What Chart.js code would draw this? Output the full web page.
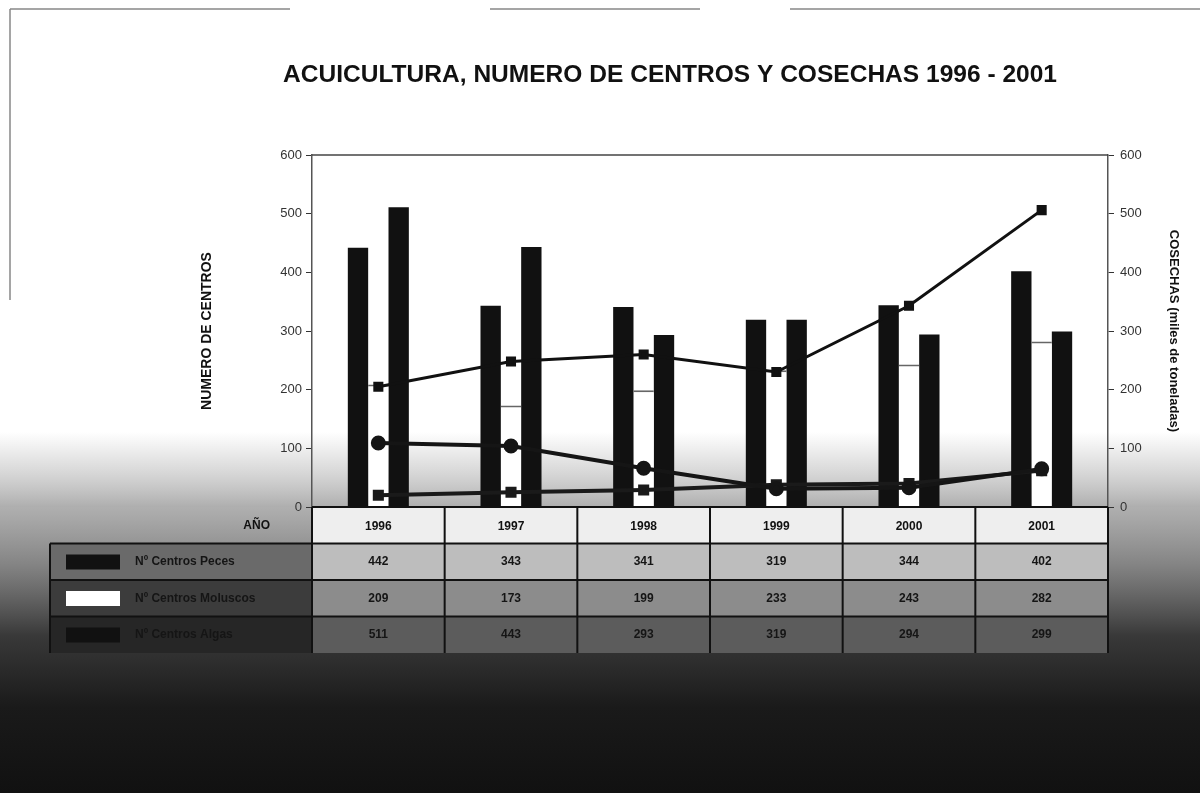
<!DOCTYPE html>
<html>
<head>
<meta charset="utf-8">
<script src="https://cdn.jsdelivr.net/npm/chart.js@4.4.1/dist/chart.umd.min.js"></script>
<style>
  html, body { margin: 0; padding: 0; background: #fff; }
  #wrap { width: 1200px; height: 793px; position: relative; }
</style>
</head>
<body>
<div id="wrap"><canvas id="acuiChart" width="1200" height="793"></canvas></div>
<script>
// datos (centros y cosechas, miles de toneladas)
const years = ["1996", "1997", "1998", "1999", "2000", "2001"];
const centrosPeces = [442, 343, 341, 319, 344, 402];
const centrosMoluscos = [209, 173, 199, 233, 243, 282];
const centrosAlgas = [511, 443, 293, 319, 294, 299];
const cosechasPeces = [205, 248, 260, 230, 343, 506];
const cosechasAlgas = [109, 104, 66, 31, 33, 65];
const cosechasMoluscos = [20, 25, 29, 38, 40, 62];
const yTicks = [0, 100, 200, 300, 400, 500, 600];

const tableRows = [
    { label: "Nº Centros Peces", values: centrosPeces, key: "#111", cell: "#bdbdbd", side: "#6a6a6a" },
    { label: "Nº Centros Moluscos", values: centrosMoluscos, key: "#fff", cell: "#8c8c8c", side: "#3c3c3c" },
    { label: "Nº Centros Algas", values: centrosAlgas, key: "#111", cell: "#5c5c5c", side: "#262626" }
];

const FONT = '"Liberation Sans", Arial, sans-serif';

// fondo escaneado: blanco arriba, gris oscuro abajo
const backgroundPlugin = {
    id: "scanBackground",
    beforeDraw(chart) {
        const ctx = chart.ctx;
        const area = chart.chartArea;
        ctx.save();
        ctx.fillStyle = "#fff";
        ctx.fillRect(0, 0, chart.width, chart.height);

        // banda gris bajo el area del grafico
        let g = ctx.createLinearGradient(0, area.bottom - 75, 0, area.bottom);
        g.addColorStop(0, "rgba(150,150,150,0)");
        g.addColorStop(0.5, "rgba(150,150,150,0.35)");
        g.addColorStop(1, "rgba(120,120,120,0.6)");
        ctx.fillStyle = g;
        ctx.fillRect(0, area.bottom - 75, chart.width, 75);

        g = ctx.createLinearGradient(0, area.bottom, 0, chart.height);
        g.addColorStop(0, "rgba(110,110,110,0.55)");
        g.addColorStop(0.2, "rgba(80,80,80,0.7)");
        g.addColorStop(0.45, "rgba(35,35,35,0.9)");
        g.addColorStop(0.7, "#1a1a1a");
        g.addColorStop(1, "#111");
        ctx.fillStyle = g;
        ctx.fillRect(0, area.bottom, chart.width, chart.height - area.bottom);

        // bordes de la pagina
        ctx.strokeStyle = "#888";
        ctx.lineWidth = 1.5;
        ctx.beginPath();
        ctx.moveTo(10, 9); ctx.lineTo(290, 9);
        ctx.moveTo(490, 9); ctx.lineTo(700, 9);
        ctx.moveTo(790, 9); ctx.lineTo(1200, 9);
        ctx.moveTo(10, 9); ctx.lineTo(10, 300);
        ctx.stroke();
        ctx.restore();
    },
    afterDatasetsDraw(chart) {
        const ctx = chart.ctx;
        const area = chart.chartArea;
        ctx.save();
        ctx.strokeStyle = "#444";
        ctx.lineWidth = 1.5;
        ctx.beginPath();
        ctx.moveTo(area.left, area.top);
        ctx.lineTo(area.right, area.top);
        ctx.stroke();

        // titulo ajustado al ancho del original
        const title = "ACUICULTURA, NUMERO DE CENTROS Y COSECHAS 1996 - 2001";
        ctx.fillStyle = "#111";
        ctx.font = "bold 23px " + FONT;
        ctx.textAlign = "center";
        ctx.textBaseline = "middle";
        const w = ctx.measureText(title).width;
        ctx.translate(670, 76);
        ctx.scale(774 / w, 1);
        ctx.fillText(title, 0, 0);
        ctx.restore();
    }
};

// tabla de datos bajo el eje x
const tablePlugin = {
    id: "dataTable",
    afterDraw(chart) {
        const ctx = chart.ctx;
        const x = chart.scales.x;
        const area = chart.chartArea;
        const step = (area.right - area.left) / years.length;
        const top = area.bottom;
        const rowH = 36.5;
        const tableLeft = 50;

        ctx.save();
        // celdas
        ctx.fillStyle = "#eeeeee";
        ctx.fillRect(area.left, top, area.right - area.left, rowH);
        tableRows.forEach((row, r) => {
            const y = top + rowH * (r + 1);
            ctx.fillStyle = row.side;
            ctx.fillRect(tableLeft, y, area.left - tableLeft, rowH);
            ctx.fillStyle = row.cell;
            ctx.fillRect(area.left, y, area.right - area.left, rowH);
            ctx.fillStyle = row.key;
            ctx.fillRect(tableLeft + 16, y + 11, 54, 15);
        });

        // lineas
        ctx.strokeStyle = "#111";
        ctx.lineWidth = 2;
        ctx.beginPath();
        ctx.moveTo(area.left, top); ctx.lineTo(area.right, top);
        for (let r = 1; r <= tableRows.length; r++) {
            ctx.moveTo(tableLeft, top + rowH * r);
            ctx.lineTo(area.right, top + rowH * r);
        }
        ctx.moveTo(tableLeft, top + rowH);
        ctx.lineTo(tableLeft, top + rowH * (tableRows.length + 1));
        for (let i = 0; i <= years.length; i++) {
            const px = area.left + step * i;
            ctx.moveTo(px, top);
            ctx.lineTo(px, top + rowH * (tableRows.length + 1));
        }
        ctx.stroke();

        // textos
        ctx.fillStyle = "#111";
        ctx.font = "bold 12px " + FONT;
        ctx.textBaseline = "middle";
        ctx.textAlign = "right";
        ctx.fillText("AÑO", area.left - 42, top + rowH / 2);
        ctx.textAlign = "center";
        years.forEach((yr, i) => {
            ctx.fillText(yr, x.getPixelForValue(i), top + rowH / 2 + 1);
        });
        tableRows.forEach((row, r) => {
            const y = top + rowH * (r + 1) + rowH / 2;
            ctx.textAlign = "left";
            ctx.fillStyle = "#151515";
            ctx.fillText(row.label, tableLeft + 85, y);
            ctx.textAlign = "center";
            row.values.forEach((v, i) => {
                ctx.fillText(String(v), x.getPixelForValue(i), y);
            });
        });
        ctx.restore();
    }
};

const ctx = document.getElementById("acuiChart").getContext("2d");

new Chart(ctx, {
    type: "bar",
    data: {
        labels: years,
        datasets: [
            {
                type: "line",
                label: "Cosechas Peces",
                data: cosechasPeces,
                yAxisID: "y1",
                borderColor: "#111",
                backgroundColor: "#111",
                borderWidth: 3,
                pointStyle: "rect",
                pointRadius: 5,
                order: 0
            },
            {
                type: "line",
                label: "Cosechas Algas",
                data: cosechasAlgas,
                yAxisID: "y1",
                borderColor: "#151515",
                backgroundColor: "#151515",
                borderWidth: 4,
                pointStyle: "circle",
                pointRadius: 5.5,
                order: 0
            },
            {
                type: "line",
                label: "Cosechas Moluscos",
                data: cosechasMoluscos,
                yAxisID: "y1",
                borderColor: "#1a1a1a",
                backgroundColor: "#1a1a1a",
                borderWidth: 4,
                pointStyle: "rect",
                pointRadius: 5,
                order: 0
            },
            {
                label: "Nº Centros Peces",
                data: centrosPeces,
                yAxisID: "y",
                backgroundColor: "#111",
                order: 1
            },
            {
                label: "Nº Centros Moluscos",
                data: centrosMoluscos,
                yAxisID: "y",
                backgroundColor: "#fff",
                borderColor: "#666",
                borderWidth: { top: 2, left: 0, right: 0, bottom: 0 },
                borderSkipped: false,
                order: 1
            },
            {
                label: "Nº Centros Algas",
                data: centrosAlgas,
                yAxisID: "y",
                backgroundColor: "#111",
                order: 1
            }
        ]
    },
    options: {
        responsive: false,
        animation: false,
        categoryPercentage: 0.46,
        barPercentage: 1.0,
        layout: {
            padding: { left: 195, right: 15, top: 155, bottom: 286 }
        },
        plugins: {
            legend: { display: false },
            title: { display: false },
            tooltip: { enabled: false }
        },
        scales: {
            x: {
                display: false
            },
            y: {
                position: "left",
                min: 0,
                max: 600,
                afterBuildTicks(scale) {
                    scale.ticks = yTicks.map(v => ({ value: v }));
                },
                afterFit(scale) { scale.width = 117; },
                border: { display: true, color: "#555", width: 1.5 },
                grid: { drawOnChartArea: false, drawTicks: true, tickLength: 6, color: "#333" },
                ticks: { color: "#333", padding: 4, font: { family: FONT, size: 13 } },
                title: {
                    display: true,
                    text: "NUMERO DE CENTROS",
                    color: "#111",
                    font: { family: FONT, size: 14, weight: "bold" }
                }
            },
            y1: {
                position: "right",
                min: 0,
                max: 600,
                afterBuildTicks(scale) {
                    scale.ticks = yTicks.map(v => ({ value: v }));
                },
                afterFit(scale) { scale.width = 77; },
                border: { display: true, color: "#555", width: 1.5 },
                grid: { drawOnChartArea: false, drawTicks: true, tickLength: 6, color: "#333" },
                ticks: { color: "#333", padding: 6, font: { family: FONT, size: 13 } },
                title: {
                    display: true,
                    text: "COSECHAS (miles de toneladas)",
                    color: "#111",
                    font: { family: FONT, size: 13, weight: "bold" }
                }
            }
        }
    },
    plugins: [backgroundPlugin, tablePlugin]
});
</script>
</body>
</html>
